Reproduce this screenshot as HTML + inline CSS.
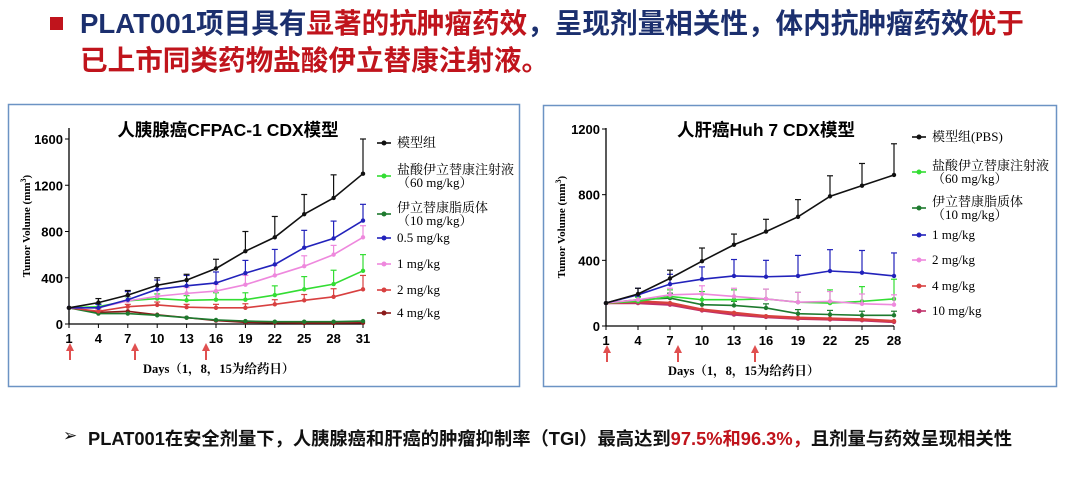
<!DOCTYPE html>
<html><head><meta charset="utf-8"><style>
body{margin:0;width:1080px;height:478px;background:#fff;overflow:hidden;position:relative;font-family:"Liberation Sans","Noto Sans CJK SC",sans-serif}
.h{position:absolute;left:80px;font-size:27.6px;font-weight:bold;color:#1b2f6e;white-space:nowrap;letter-spacing:0px;line-height:34px}
.r{color:#c0141c}
.sq{position:absolute;left:50px;top:17px;width:13px;height:13px;background:#c0141c}
.b{position:absolute;left:88px;top:425px;font-size:18.3px;font-weight:bold;color:#111;white-space:nowrap}
.ar{position:absolute;left:63px;top:426px;font-size:17px;color:#111}
svg{position:absolute;left:0;top:0}
</style></head><body>
<div class="sq"></div>
<div class="h" style="top:7px">PLAT001项目具有<span class="r">显著的抗肿瘤药效</span>，呈现剂量相关性，体内抗肿瘤药效<span class="r">优于</span></div>
<div class="h r" style="top:44px">已上市同类药物盐酸伊立替康注射液。</div>
<div class="ar">➢</div>
<div class="b">PLAT001在安全剂量下，人胰腺癌和肝癌的肿瘤抑制率（TGI）最高达到<span class="r">97.5%和96.3%，</span>且剂量与药效呈现相关性</div>
<svg id="s" width="1080" height="478" font-family="Liberation Serif, Noto Serif CJK SC, serif"></svg>
<script>
const s=document.getElementById('s');let h='';
h+='<rect x="8.5" y="104.5" width="511" height="282" fill="none" stroke="#6c93c4" stroke-width="1.5"/>';
h+='<rect x="543.5" y="105.5" width="513" height="281" fill="none" stroke="#6c93c4" stroke-width="1.5"/>';
function chart(o){
 const X=i=>o.x0+i*o.dx, Y=v=>o.y0-v*o.sy;
 h+=`<line x1="${o.x0}" y1="${o.ytop}" x2="${o.x0}" y2="${o.y0}" stroke="#000" stroke-width="1.3"/>`;
 h+=`<line x1="${o.x0}" y1="${o.y0}" x2="${X(o.n-1)}" y2="${o.y0}" stroke="#000" stroke-width="1.3"/>`;
 o.yt.forEach(v=>{h+=`<line x1="${o.x0-4}" y1="${Y(v)}" x2="${o.x0}" y2="${Y(v)}" stroke="#000"/><text x="${o.x0-6}" y="${Y(v)+5}" font-family="Liberation Sans" font-weight="bold" font-size="13" text-anchor="end">${v}</text>`});
 for(let i=0;i<o.n;i++){h+=`<line x1="${X(i)}" y1="${o.y0}" x2="${X(i)}" y2="${o.y0+4}" stroke="#000"/><text x="${X(i)}" y="${o.y0+19}" font-family="Liberation Sans" font-weight="bold" font-size="13" text-anchor="middle">${1+3*i}</text>`}
 o.arr.forEach(x=>{h+=`<line x1="${x}" y1="${o.y0+36}" x2="${x}" y2="${o.y0+24}" stroke="#e05050" stroke-width="2"/><polygon points="${x-4},${o.y0+27} ${x+4},${o.y0+27} ${x},${o.y0+19}" fill="#e05050"/>`});
 h+=`<text x="${o.dl}" y="${o.y0+49}" font-size="12.5" font-weight="bold">Days（1，8，15为给药日）</text>`;
 h+=`<text transform="translate(${o.yl},${(o.ytop+o.y0)/2}) rotate(-90)" font-size="11" font-weight="bold" text-anchor="middle">Tumor Volume (mm<tspan dy="-4" font-size="8">3</tspan><tspan dy="4">)</tspan></text>`;
 h+=`<text x="${o.tx}" y="136" font-family="Liberation Sans, Noto Sans CJK SC" font-weight="bold" font-size="17.5" text-anchor="middle">${o.title}</text>`;
 o.ser.forEach(se=>{
  if(se.e){se.v.forEach((v,i)=>{if(i>0){const t=v+se.e[i-1];h+=`<line x1="${X(i)}" y1="${Y(v)}" x2="${X(i)}" y2="${Y(t)}" stroke="${se.c}" stroke-width="1.2"/><line x1="${X(i)-3}" y1="${Y(t)}" x2="${X(i)+3}" y2="${Y(t)}" stroke="${se.c}" stroke-width="1.2"/>`}})}
  h+=`<polyline fill="none" stroke="${se.c}" stroke-width="${se.w||1.6}" points="${se.v.map((v,i)=>X(i)+','+Y(v)).join(' ')}"/>`;
  se.v.forEach((v,i)=>{h+=`<circle cx="${X(i)}" cy="${Y(v)}" r="2.2" fill="${se.c}"/>`});
 });
 o.leg.forEach(l=>{h+=`<line x1="${o.lx}" y1="${l[1]}" x2="${o.lx+14}" y2="${l[1]}" stroke="${l[0]}" stroke-width="1.6"/><circle cx="${o.lx+7}" cy="${l[1]}" r="2.5" fill="${l[0]}"/>`;
  l[2].forEach((t,k)=>{h+=`<text x="${o.lx+20}" y="${l[1]+4+k*13-(l[2].length>1?6:0)}" font-size="13">${t}</text>`})});
}
chart({x0:69,dx:29.4,n:11,y0:324,sy:185/1600,ytop:128,yt:[0,400,800,1200,1600],arr:[70,135,206],dl:143,yl:30,tx:228,title:"人胰腺癌CFPAC-1 CDX模型",lx:377,
ser:[
{c:'#8b1a1a',v:[140,100,110,80,55,30,15,10,8,8,10]},
{c:'#1e7a2e',v:[140,90,90,75,55,35,25,20,20,20,25]},
{c:'#d84040',v:[140,110,150,165,145,140,140,170,205,235,300],e:[20,20,25,25,30,35,40,50,70,120]},
{c:'#33dd33',v:[140,150,200,220,205,210,210,250,300,345,460],e:[25,35,40,40,60,60,80,110,120,140]},
{c:'#ee88dd',v:[140,140,200,240,265,285,340,420,500,600,750],e:[30,40,50,50,60,80,90,90,80,100]},
{c:'#2222bb',v:[140,140,210,300,330,355,440,515,660,740,895],e:[30,70,80,90,95,110,130,150,150,140]},
{c:'#111',v:[140,185,250,335,380,480,630,750,950,1090,1300],e:[35,40,65,50,80,170,180,170,200,300]}],
leg:[['#111',143,['模型组']],['#33dd33',176,['盐酸伊立替康注射液','（60 mg/kg）']],['#1e7a2e',214,['伊立替康脂质体','（10 mg/kg）']],['#2222bb',238,['0.5 mg/kg']],['#ee88dd',264,['1 mg/kg']],['#d84040',290,['2 mg/kg']],['#8b1a1a',313,['4 mg/kg']]]});
chart({x0:606,dx:32,n:10,y0:326,sy:197/1200,ytop:128,yt:[0,400,800,1200],arr:[607,678,755],dl:668,yl:565,tx:766,title:"人肝癌Huh 7 CDX模型",lx:912,
ser:[
{c:'#c0306a',v:[140,140,130,95,70,55,45,40,35,25],w:2.5},
{c:'#d84040',v:[140,150,140,100,80,60,50,45,40,30],w:2.5},
{c:'#1e7a2e',v:[140,160,170,130,125,110,75,70,65,65],e:[20,30,30,25,25,25,25,25,25]},
{c:'#33dd33',v:[140,150,180,160,160,165,145,140,150,165],e:[25,40,50,60,60,60,80,90,120]},
{c:'#ee88dd',v:[140,160,190,195,180,165,145,150,135,130],e:[30,40,50,50,60,60,60,60,60]},
{c:'#2222bb',v:[140,190,255,285,305,300,305,335,325,305],e:[40,60,75,100,100,125,130,135,140]},
{c:'#111',v:[140,195,290,395,495,575,665,790,855,920],e:[35,50,80,65,75,105,125,135,190]}],
leg:[['#111',137,['模型组(PBS)']],['#33dd33',172,['盐酸伊立替康注射液','（60 mg/kg）']],['#1e7a2e',208,['伊立替康脂质体','（10 mg/kg）']],['#2222bb',235,['1 mg/kg']],['#ee88dd',260,['2 mg/kg']],['#d84040',286,['4 mg/kg']],['#c0306a',311,['10 mg/kg']]]});
s.innerHTML=h;
</script>
</body></html>
